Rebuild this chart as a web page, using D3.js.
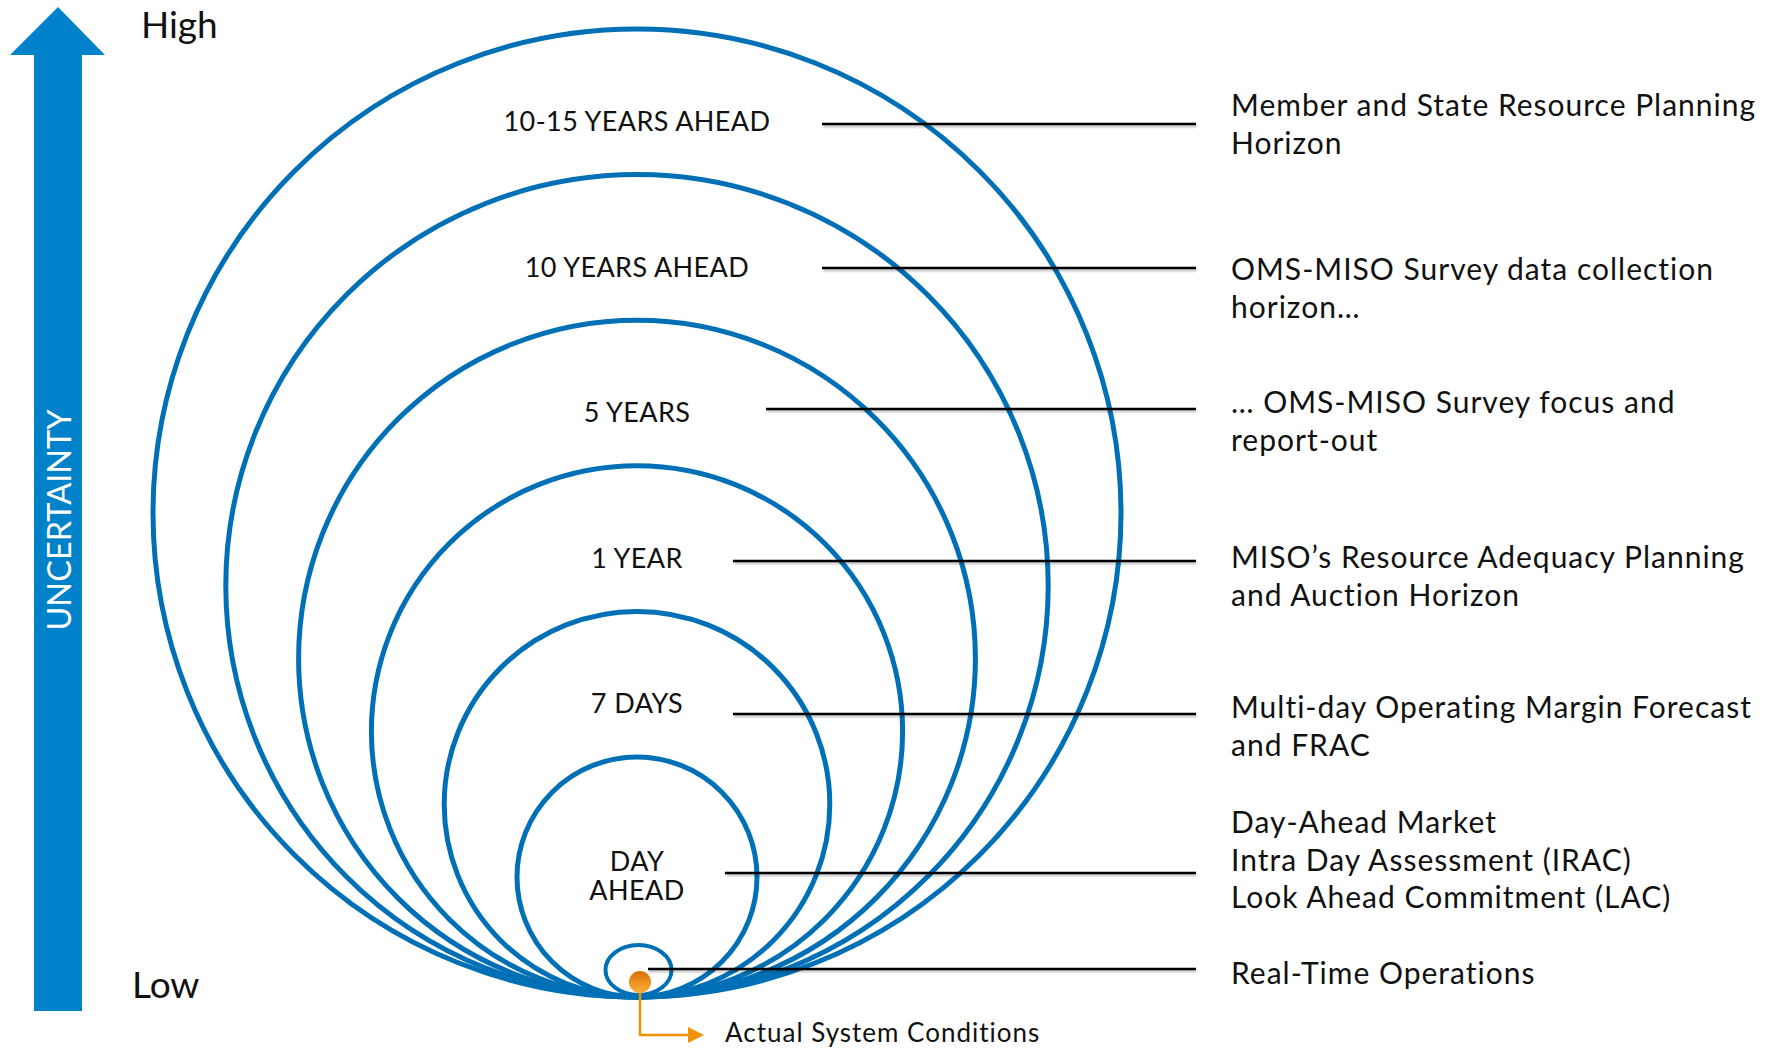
<!DOCTYPE html>
<html>
<head>
<meta charset="utf-8">
<script src="https://cdn.jsdelivr.net/npm/d3@7"></script>
<style>
  html, body { margin: 0; padding: 0; background: #ffffff; }
  svg { display: block; font-family: Lato, "Open Sans", sans-serif; }
</style>
</head>
<body>
<svg id="chart" width="1771" height="1048"></svg>
<script>
// ---------- DATA ----------
const horizons = ["10-15 YEARS AHEAD", "10 YEARS AHEAD", "5 YEARS", "1 YEAR", "7 DAYS", "DAY|AHEAD"];
const uncertaintyLevel = [6, 5, 4, 3, 2, 1];
const descriptions = [
  ["Member and State Resource Planning", "Horizon"],
  ["OMS-MISO Survey data collection", "horizon…"],
  ["… OMS-MISO Survey focus and", "report-out"],
  ["MISO’s Resource Adequacy Planning", "and Auction Horizon"],
  ["Multi-day Operating Margin Forecast", "and FRAC"],
  ["Day-Ahead Market", "Intra Day Assessment (IRAC)", "Look Ahead Commitment (LAC)"]
];
const realTimeLabel = ["Real-Time Operations"];
const axisLabels = { high: "High", low: "Low", title: "UNCERTAINTY" };
const actualLabel = "Actual System Conditions";

// ---------- LAYOUT ----------
const svg = d3.select("#chart");
const blueArrow = "#0082ca";
const blueCircle = "#0070b6";
const orange = "#f39200";
const cx = 637, baseY = 997;
const r = d3.scaleLinear().domain([1, 6]).range([120, 484]);

const defs = svg.append("defs");
const grad = defs.append("linearGradient").attr("id", "dotGrad")
  .attr("x1", 0).attr("y1", 0).attr("x2", 0).attr("y2", 1);
grad.append("stop").attr("offset", "0%").attr("stop-color", "#d96f00");
grad.append("stop").attr("offset", "100%").attr("stop-color", "#fbb040");
const shadow = defs.append("filter").attr("id", "sh").attr("x", "-5%").attr("y", "-200%").attr("width", "110%").attr("height", "500%");
shadow.append("feDropShadow").attr("dx", 1).attr("dy", 2).attr("stdDeviation", 1.2).attr("flood-color", "#000").attr("flood-opacity", 0.25);

// Uncertainty arrow
const arrow = d3.path();
arrow.moveTo(58, 7); arrow.lineTo(105, 55); arrow.lineTo(82, 55); arrow.lineTo(82, 1011);
arrow.lineTo(34, 1011); arrow.lineTo(34, 55); arrow.lineTo(10, 55); arrow.closePath();
svg.append("path").attr("d", arrow.toString()).attr("fill", blueArrow);
svg.append("text").attr("transform", "translate(71,520) rotate(-90)")
  .attr("text-anchor", "middle").attr("fill", "#fff").attr("font-size", 32.5)
  .text(axisLabels.title);
svg.append("text").attr("x", 141).attr("y", 38).attr("font-size", 37).attr("fill", "#111").text(axisLabels.high);
svg.append("text").attr("x", 132).attr("y", 998).attr("font-size", 37).attr("fill", "#111").text(axisLabels.low);

// Leader lines & descriptions
const leaderY = [124, 268, 409, 561, 714, 873];
const leaderX0 = [822, 822, 766, 733, 733, 725];
const descY = [116, 280, 413, 568, 718, 833];
const lineEndX = 1196, textX = 1231, lh = 37.5;

const items = horizons.map((h, i) => ({ h, lvl: uncertaintyLevel[i], desc: descriptions[i], ly: leaderY[i], lx: leaderX0[i], dy: descY[i] }));

// circles
svg.append("g").selectAll("circle").data(items).join("circle")
  .attr("cx", cx).attr("cy", d => baseY - r(d.lvl)).attr("r", d => r(d.lvl))
  .attr("fill", "none").attr("stroke", blueCircle).attr("stroke-width", 5);

// real-time ellipse
svg.append("ellipse").attr("cx", 638.5).attr("cy", 970).attr("rx", 33).attr("ry", 25)
  .attr("fill", "none").attr("stroke", blueCircle).attr("stroke-width", 4);

// leader lines
const lines = svg.append("g").attr("filter", "url(#sh)");
lines.selectAll("line").data(items).join("line")
  .attr("x1", d => d.lx).attr("x2", lineEndX).attr("y1", d => d.ly).attr("y2", d => d.ly)
  .attr("stroke", "#000").attr("stroke-width", 2.5);
lines.append("line").attr("x1", 648).attr("x2", lineEndX).attr("y1", 969).attr("y2", 969)
  .attr("stroke", "#000").attr("stroke-width", 2.5);

// horizon labels
svg.append("g").selectAll("text").data(items).join("text")
  .attr("text-anchor", "middle").attr("font-size", 27).attr("letter-spacing", 0.4).attr("fill", "#111")
  .each(function(d) {
    const top = baseY - 2 * r(d.lvl);
    const parts = d.h.split("|");
    const t = d3.select(this);
    parts.forEach((p, k) => {
      t.append("tspan").attr("x", cx).attr("y", parts.length > 1 ? top + 114 + k * 29 : top + 102).text(p);
    });
  });

// descriptions
svg.append("g").selectAll("text").data(items).join("text")
  .attr("font-size", 30).attr("letter-spacing", 1.0).attr("fill", "#111")
  .each(function(d) {
    const t = d3.select(this);
    d.desc.forEach((p, k) => t.append("tspan").attr("x", textX).attr("y", d.dy + k * lh).text(p));
  });
svg.append("text").attr("x", textX).attr("y", 984).attr("font-size", 30).attr("letter-spacing", 1.0)
  .attr("fill", "#111").text(realTimeLabel[0]);

// actual system conditions
svg.append("path").attr("d", "M640,982 L640,1035 L690,1035")
  .attr("fill", "none").attr("stroke", orange).attr("stroke-width", 2.5);
svg.append("path").attr("d", "M688,1027 L704,1035 L688,1043 Z").attr("fill", orange);
svg.append("circle").attr("cx", 640).attr("cy", 982).attr("r", 11).attr("fill", "url(#dotGrad)");
svg.append("text").attr("x", 725).attr("y", 1042).attr("font-size", 26).attr("letter-spacing", 1)
  .attr("fill", "#111").text(actualLabel);
</script>
</body>
</html>
